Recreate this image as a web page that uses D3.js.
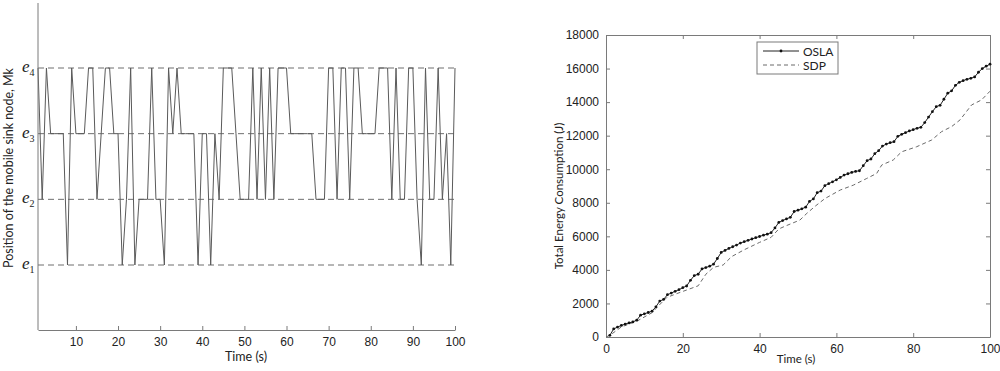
<!DOCTYPE html>
<html>
<head>
<meta charset="utf-8">
<script src="https://cdn.jsdelivr.net/npm/d3@7"></script>
<style>
  body { margin: 0; background: #fff; }
  svg { display: block; font-family: Lato, "Open Sans", "Liberation Sans", sans-serif; }
  .axis path, .axis line { stroke: #7a7a7a; }
  .axis text { fill: #222; }
</style>
</head>
<body>
<svg id="chart" width="1000" height="371"></svg>
<script>
// ---- left chart: sink node position per second ----
const positionTime = d3.range(1, 101);
const positionLevel = [
  4, 2, 4, 3, 3, 3, 3, 1, 4, 3, 3, 3, 4, 4, 2, 3, 4, 4, 3, 3,
  1, 2, 4, 1, 2, 2, 2, 4, 2, 2, 1, 4, 3, 4, 3, 3, 3, 3, 1, 3,
  3, 1, 3, 2, 4, 4, 4, 3, 2, 2, 2, 4, 2, 4, 2, 4, 2, 4, 4, 4,
  3, 3, 3, 3, 3, 3, 2, 2, 2, 4, 4, 2, 4, 4, 2, 4, 4, 3, 3, 3,
  3, 4, 4, 4, 2, 4, 2, 2, 4, 4, 2, 1, 4, 2, 2, 4, 2, 3, 1, 4
];
const levelLabels = ["1", "2", "3", "4"];
const positionTicks = [10, 20, 30, 40, 50, 60, 70, 80, 90, 100];

// ---- right chart: total energy consumption ----
const oslaTime = d3.range(1, 101);
const oslaEnergy = [
  100, 480, 590, 690, 770, 840, 900, 1000, 1300, 1380,
  1460, 1540, 1800, 2140, 2240, 2520, 2620, 2720, 2820, 2940,
  3040, 3380, 3660, 3740, 4060, 4140, 4220, 4340, 4680, 5040,
  5160, 5280, 5380, 5480, 5600, 5680, 5760, 5840, 5920, 5990,
  6070, 6130, 6220, 6500, 6830, 6940, 7040, 7130, 7480, 7560,
  7640, 7740, 8080, 8230, 8600, 8700, 9020, 9140, 9250, 9370,
  9510, 9650, 9730, 9810, 9870, 9910, 10210, 10510, 10610, 10925,
  11105, 11380, 11500, 11580, 11640, 11960, 12080, 12180, 12280, 12360,
  12440, 12500, 12780, 13110, 13430, 13730, 13810, 14170, 14530, 14670,
  15000, 15180, 15280, 15360, 15420, 15500, 15780, 16000, 16140, 16260
];
const sdpTime = [0, 1, 4, 8, 12, 13.6, 15.8, 18, 21, 24, 26, 28, 30.5, 32.7, 36, 40,
  43, 45, 47, 50.5, 52.3, 54.5, 57, 61, 64.4, 67.9, 70.5, 71.8, 74.8, 77, 80.9,
  84.8, 87.4, 90, 92.2, 95.2, 97.8, 100];
const sdpEnergy = [0, 100, 600, 940, 1450, 1840, 2350, 2550, 2800, 3050, 3740, 4150,
  4290, 4790, 5200, 5640, 5940, 6440, 6640, 6970, 7370, 7800, 8250, 8760, 9050,
  9450, 9750, 10250, 10550, 11040, 11340, 11740, 12240, 12540, 12940, 13830,
  14130, 14650];
const energyTicksX = [0, 20, 40, 60, 80, 100];
const energyTicksY = d3.range(0, 18001, 2000);

const svg = d3.select("#chart");

// ================= left panel =================
const L = { left: 38, right: 455, top: 3, bottom: 330 };
const xL = d3.scaleLinear().domain([1, 100]).range([L.left, L.right]);
const yL = d3.scaleLinear().domain([1, 4]).range([265, 68]);

const left = svg.append("g");

// dashed level lines
left.selectAll("line.level")
  .data(levelLabels)
  .join("line")
  .attr("x1", L.left).attr("x2", L.right)
  .attr("y1", (d, i) => yL(i + 1)).attr("y2", (d, i) => yL(i + 1))
  .attr("stroke", "#6f6f6f").attr("stroke-width", 1)
  .attr("stroke-dasharray", "6,4");

// position trace
const posLine = d3.line()
  .x((d, i) => xL(positionTime[i]))
  .y(d => yL(d));
left.append("path")
  .datum(positionLevel)
  .attr("d", posLine)
  .attr("fill", "none")
  .attr("stroke", "#5a5a5a")
  .attr("stroke-width", 1);

// axes (left + bottom only)
left.append("line")
  .attr("x1", L.left).attr("x2", L.left).attr("y1", L.top).attr("y2", L.bottom)
  .attr("stroke", "#7a7a7a");
left.append("g")
  .attr("class", "axis")
  .attr("transform", `translate(0,${L.bottom})`)
  .call(d3.axisBottom(xL).tickValues(positionTicks).tickSizeInner(-4).tickSizeOuter(0).tickPadding(7))
  .call(g => g.selectAll("text").attr("font-size", 12));

// e_k labels
const eLab = left.selectAll("text.elab")
  .data(levelLabels)
  .join("text")
  .attr("x", 22)
  .attr("y", (d, i) => yL(i + 1) + 4)
  .attr("font-family", "'Liberation Serif', 'DejaVu Serif', serif")
  .attr("fill", "#222");
eLab.append("tspan").attr("font-style", "italic").attr("font-size", 17).text("e");
eLab.append("tspan").attr("font-size", 10).attr("dy", 4).text(d => d);

left.append("text")
  .attr("x", 246).attr("y", 361)
  .attr("text-anchor", "middle").attr("font-size", 12.5).attr("fill", "#222")
  .text("Time (s)");
left.append("text")
  .attr("transform", "translate(13,168) rotate(-90)")
  .attr("text-anchor", "middle").attr("font-size", 12.5).attr("fill", "#222")
  .text("Position of the mobile sink node, Mk");

// ================= right panel =================
const R = { left: 606, right: 990, top: 35, bottom: 337 };
const xR = d3.scaleLinear().domain([0, 100]).range([R.left, R.right]);
const yR = d3.scaleLinear().domain([0, 18000]).range([R.bottom, R.top]);

const right = svg.append("g");

right.append("g").attr("class", "axis")
  .attr("transform", `translate(0,${R.bottom})`)
  .call(d3.axisBottom(xR).tickValues(energyTicksX).tickSizeInner(-4).tickSizeOuter(0).tickPadding(7))
  .call(g => g.selectAll("text").attr("font-size", 12));
right.append("g").attr("class", "axis")
  .attr("transform", `translate(${R.left},0)`)
  .call(d3.axisLeft(yR).tickValues(energyTicksY).tickFormat(d3.format("d"))
    .tickSizeInner(-4).tickSizeOuter(0).tickPadding(7))
  .call(g => g.selectAll("text").attr("font-size", 12));
right.append("g").attr("class", "axis")
  .attr("transform", `translate(0,${R.top})`)
  .call(d3.axisTop(xR).tickValues(energyTicksX).tickSizeInner(-4).tickSizeOuter(0).tickFormat(""));
right.append("g").attr("class", "axis")
  .attr("transform", `translate(${R.right},0)`)
  .call(d3.axisRight(yR).tickValues(energyTicksY).tickSizeInner(-4).tickSizeOuter(0).tickFormat(""));

// SDP dashed
right.append("path")
  .datum(sdpEnergy)
  .attr("d", d3.line().x((d, i) => xR(sdpTime[i])).y(d => yR(d)))
  .attr("fill", "none").attr("stroke", "#6a6a6a").attr("stroke-width", 1)
  .attr("stroke-dasharray", "4,3");

// OSLA line + dots
right.append("path")
  .datum(oslaEnergy)
  .attr("d", d3.line().x((d, i) => xR(oslaTime[i])).y(d => yR(d)))
  .attr("fill", "none").attr("stroke", "#222").attr("stroke-width", 1);
right.selectAll("circle.osla")
  .data(oslaEnergy)
  .join("circle")
  .attr("cx", (d, i) => xR(oslaTime[i]))
  .attr("cy", d => yR(d))
  .attr("r", 1.4)
  .attr("fill", "#111");

// legend
const leg = right.append("g").attr("transform", "translate(757,42)");
leg.append("rect").attr("width", 81).attr("height", 32)
  .attr("fill", "#fff").attr("stroke", "#7a7a7a");
leg.append("line").attr("x1", 6).attr("x2", 42).attr("y1", 9).attr("y2", 9)
  .attr("stroke", "#222");
leg.append("circle").attr("cx", 24).attr("cy", 9).attr("r", 1.4).attr("fill", "#111");
leg.append("line").attr("x1", 6).attr("x2", 42).attr("y1", 23).attr("y2", 23)
  .attr("stroke", "#6a6a6a").attr("stroke-dasharray", "4,3");
leg.append("text").attr("x", 46).attr("y", 13.5).attr("font-size", 12).attr("fill", "#222").text("OSLA");
leg.append("text").attr("x", 46).attr("y", 27.5).attr("font-size", 12).attr("fill", "#222").text("SDP");

right.append("text")
  .attr("x", 796).attr("y", 363)
  .attr("text-anchor", "middle").attr("font-size", 11.5).attr("fill", "#222")
  .text("Time (s)");
right.append("text")
  .attr("transform", "translate(563,196) rotate(-90)")
  .attr("text-anchor", "middle").attr("font-size", 11.5).attr("fill", "#222")
  .text("Total Energy Consumption (J)");
</script>
</body>
</html>
